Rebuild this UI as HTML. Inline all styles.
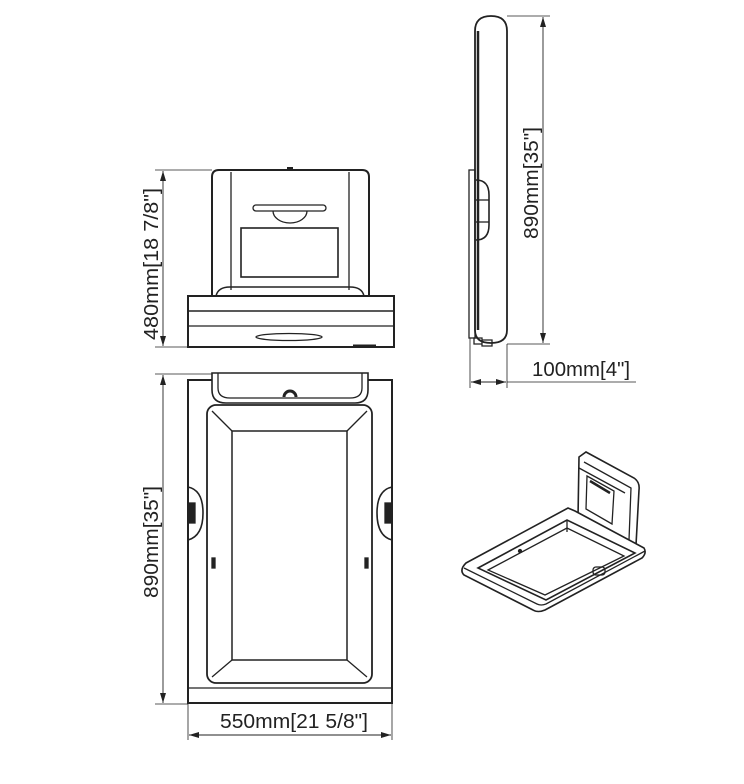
<!DOCTYPE html>
<html><head><meta charset="utf-8"><style>
html,body{margin:0;padding:0;background:#fff;width:744px;height:784px;overflow:hidden}
svg{display:block}
text{font-family:"Liberation Sans",sans-serif;font-size:20px;fill:#222}
</style></head><body>
<svg width="744" height="784" viewBox="0 0 744 784" xmlns="http://www.w3.org/2000/svg">
<defs>
<marker id="ar" viewBox="0 0 10 6" refX="10" refY="3" markerWidth="10" markerHeight="6" orient="auto-start-reverse" markerUnits="userSpaceOnUse"><path d="M0,0 L10,3 L0,6 Z" fill="#222"/></marker>
</defs>
<g fill="none" stroke="#222" stroke-width="1.3">
<!-- FRONT ELEVATION -->
<path d="M212,296 V177 Q212,170 219,170 H362 Q369,170 369,177 V296" stroke-width="2"/>
<line x1="231" y1="172" x2="231" y2="290"/>
<line x1="349" y1="172" x2="349" y2="290"/>
<path d="M216,296 Q218,287 230,287 H350 Q362,287 364,296" stroke-width="1.5"/>
<rect x="253" y="205" width="73" height="6" rx="3"/>
<path d="M273,211 A17,12 0 0 0 307,211"/>
<rect x="241" y="228" width="97" height="49" stroke-width="1.6"/>
<rect x="188" y="296" width="206" height="51" stroke-width="2"/>
<line x1="188" y1="311" x2="394" y2="311" stroke-width="1.6"/>
<line x1="188" y1="326" x2="394" y2="326"/>
<ellipse cx="289" cy="337" rx="33" ry="3.5"/>
<line x1="353" y1="346" x2="376" y2="346" stroke-width="3"/>
<line x1="287" y1="168" x2="293" y2="168" stroke-width="2"/>
<line x1="155" y1="170" x2="212" y2="170" stroke-width="0.8"/>
<line x1="155" y1="347" x2="188" y2="347" stroke-width="0.8"/>
<line x1="163" y1="171" x2="163" y2="346" stroke-width="0.9" marker-start="url(#ar)" marker-end="url(#ar)"/>

<!-- PLAN VIEW -->
<rect x="188" y="380" width="204" height="323" stroke-width="2"/>
<path d="M212,373 V390 Q212,403 226,403 H355 Q368,403 368,390 V373 Z" fill="#fff" stroke-width="1.6"/>
<path d="M218,373 V388 Q218,398 230,398 H350 Q362,398 362,388 V373"/>
<path d="M284,397 A6,6 0 0 1 296,397" stroke-width="3"/>
<rect x="207" y="405" width="165" height="278" rx="9" stroke-width="1.8"/>
<rect x="232" y="431" width="115" height="229" stroke-width="1.5"/>
<line x1="212" y1="411" x2="232" y2="431"/><line x1="367" y1="411" x2="347" y2="431"/>
<line x1="212" y1="677" x2="232" y2="660"/><line x1="367" y1="677" x2="347" y2="660"/>
<line x1="188" y1="688" x2="392" y2="688"/>
<path d="M188,487 Q203,490 203,513 Q203,536 188,540" stroke-width="1.6"/>
<rect x="189" y="503" width="6" height="20" fill="#222"/>
<path d="M392,487 Q377,490 377,513 Q377,536 392,540" stroke-width="1.6"/>
<rect x="385" y="503" width="6" height="20" fill="#222"/>
<rect x="212" y="558" width="3" height="10" fill="#222"/>
<rect x="365" y="558" width="3" height="10" fill="#222"/>
<line x1="155" y1="374" x2="212" y2="374" stroke-width="0.8"/>
<line x1="155" y1="704" x2="188" y2="704" stroke-width="0.8"/>
<line x1="163" y1="375" x2="163" y2="703" stroke-width="0.9" marker-start="url(#ar)" marker-end="url(#ar)"/>
<line x1="188" y1="704" x2="188" y2="740" stroke-width="0.8"/>
<line x1="392" y1="704" x2="392" y2="740" stroke-width="0.8"/>
<line x1="189" y1="735" x2="391" y2="735" stroke-width="0.9" marker-start="url(#ar)" marker-end="url(#ar)"/>

<!-- SIDE VIEW -->
<path d="M475,330 V31 Q475,16 491,16 Q507,16 507,31 V330 Q507,343 491,343 Q475,343 475,330 Z" stroke-width="1.8"/>
<line x1="478" y1="31" x2="478" y2="330" stroke-width="2.5"/>
<rect x="469" y="170" width="6" height="168"/>
<path d="M476,180 Q489,180 489,195 V225 Q489,240 476,240" stroke-width="1.6"/>
<line x1="476" y1="200" x2="489" y2="200"/><line x1="476" y1="222" x2="489" y2="222"/>
<path d="M474,338 h8 v6 h-8 z M482,340 h10 v6 h-10 z"/>
<line x1="507" y1="16" x2="550" y2="16" stroke-width="0.8"/>
<line x1="507" y1="344" x2="550" y2="344" stroke-width="0.8"/>
<line x1="543" y1="17" x2="543" y2="343" stroke-width="0.9" marker-start="url(#ar)" marker-end="url(#ar)"/>
<line x1="470" y1="338" x2="470" y2="388" stroke-width="0.8"/>
<line x1="507" y1="344" x2="507" y2="388" stroke-width="0.8"/>
<line x1="471" y1="382" x2="506" y2="382" stroke-width="0.9" marker-start="url(#ar)" marker-end="url(#ar)"/>
<line x1="507" y1="382" x2="636" y2="382" stroke-width="0.8"/>

<!-- ISOMETRIC -->
<path d="M579,457 L586,452 L634,478 Q640,482 639,490 L636,545 L630,548 L578,518 Z" fill="#fff" stroke-width="1.6"/>
<path d="M584,462 L631,488 L629,540"/>
<path d="M579,468 L625,493"/>
<path d="M587,476 L614,491 L612,524 L586,509 Z"/>
<line x1="590" y1="481" x2="610" y2="493" stroke-width="2.5"/>
<path d="M466,563 L568,508 L575,511 L644,548 Q647,553 642,558 L545,610 Q538,613 533,610 L464,575 Q459,570 466,563 Z" fill="#fff" stroke-width="1.6"/>
<path d="M464,568 L537,604 Q541,606 546,604 L645,551"/>
<path d="M478,568 L567,520 L635,553 L546,600 Z" stroke-width="1.6"/>
<path d="M488,570 L567,528 L624,556 L545,595 Z"/>
<line x1="567" y1="520" x2="567" y2="532"/>
<circle cx="520" cy="551" r="1.5" fill="#222"/>
<rect x="593" y="567" width="12" height="8" rx="3"/>
</g>
<!-- labels -->
<g>
<text transform="translate(158,264) rotate(-90)" text-anchor="middle" textLength="152" lengthAdjust="spacingAndGlyphs">480mm[18 7/8"]</text>
<text transform="translate(158,542) rotate(-90)" text-anchor="middle" textLength="112" lengthAdjust="spacingAndGlyphs">890mm[35"]</text>
<text transform="translate(538,183) rotate(-90)" text-anchor="middle" textLength="112" lengthAdjust="spacingAndGlyphs">890mm[35"]</text>
<text x="294" y="728" text-anchor="middle" textLength="148" lengthAdjust="spacingAndGlyphs">550mm[21 5/8"]</text>
<text x="581" y="376" text-anchor="middle" textLength="98" lengthAdjust="spacingAndGlyphs">100mm[4"]</text>
</g>
</svg>
</body></html>
